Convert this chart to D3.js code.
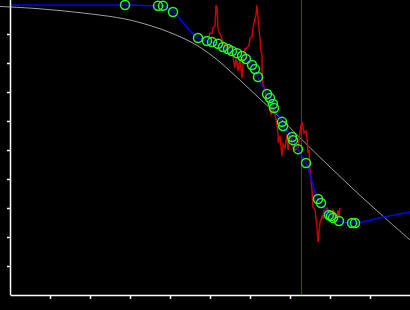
<!DOCTYPE html>
<html>
<head>
<meta charset="utf-8">
<script src="https://cdn.jsdelivr.net/npm/d3@7"></script>
<style>
  html, body { margin: 0; padding: 0; background: #000; }
  svg { display: block; }
</style>
</head>
<body>
<div id="chart"></div>
<script>
// tick positions (no labels on this chart)
const xTicks = [1, 2, 3, 4, 5, 6, 7, 8, 9];
const yTicks = [0.1, 0.2, 0.3, 0.4, 0.5, 0.6, 0.7, 0.8, 0.9];

// grey fitted curve
const fitX = [-0.25, 0.75, 1.75, 2.75, 3.25, 3.75, 4.25, 4.75, 5.25, 5.75, 6.25, 6.75, 7.5, 8.0, 8.5, 9.0, 9.5, 10.0];
const fitY = [0.995, 0.988, 0.974, 0.957, 0.940, 0.919, 0.892, 0.857, 0.805, 0.741, 0.676, 0.612, 0.507, 0.442, 0.375, 0.312, 0.250, 0.190];

// green sampled points (blue line goes through them)
const pointX = [2.875, 3.70, 3.825, 4.075, 4.70, 4.925, 5.05, 5.20, 5.325, 5.45, 5.55, 5.675, 5.80, 5.90, 6.05, 6.125, 6.20,
  6.425, 6.50, 6.575, 6.60, 6.80, 6.825, 7.05, 7.075, 7.20, 7.40, 7.70, 7.775, 7.975, 8.025, 8.075, 8.225, 8.55, 8.625];
const pointY = [1.0, 0.997, 0.997, 0.976, 0.886, 0.876, 0.872, 0.866, 0.855, 0.848, 0.841, 0.834, 0.824, 0.814, 0.793, 0.779, 0.752,
  0.693, 0.679, 0.659, 0.645, 0.597, 0.583, 0.545, 0.534, 0.503, 0.455, 0.331, 0.317, 0.276, 0.272, 0.266, 0.255, 0.248, 0.248];

// blue line ends beyond the points
const leadX = [0], leadY = [1.0];
const tailX = [9.25, 10.0], tailY = [0.266, 0.286];

// red raw trace
const rawX = [4.925, 4.975, 5.0, 5.05, 5.075, 5.125, 5.15, 5.175, 5.2, 5.225, 5.275, 5.325, 5.4, 5.475, 5.525, 5.575, 5.6, 5.625,
  5.65, 5.675, 5.7, 5.725, 5.75, 5.775, 5.8, 5.825, 5.85, 5.875, 5.925, 5.975, 6.0, 6.05, 6.075, 6.1, 6.15, 6.175, 6.2, 6.225,
  6.25, 6.275, 6.3, 6.305, 6.325, 6.375, 6.425, 6.5, 6.525, 6.575, 6.625, 6.675, 6.7, 6.705, 6.75, 6.8, 6.825, 6.875, 6.925,
  6.95, 7.0, 7.05, 7.075, 7.125, 7.2, 7.275, 7.3, 7.35, 7.4, 7.425, 7.45, 7.475, 7.5, 7.55, 7.575, 7.625, 7.675, 7.7, 7.725,
  7.75, 7.8, 7.825, 7.85, 7.925, 7.95, 8.0, 8.05, 8.075, 8.125, 8.175, 8.2, 8.225, 8.25];
const rawY = [0.886, 0.893, 0.903, 0.903, 0.921, 0.928, 1.0, 0.990, 0.921, 0.907, 0.893, 0.872, 0.852, 0.859, 0.838, 0.824, 0.8, 0.783,
  0.810, 0.803, 0.772, 0.797, 0.817, 0.779, 0.748, 0.790, 0.828, 0.848, 0.852, 0.859, 0.886, 0.890, 0.921, 0.938, 0.966, 1.0, 0.955, 0.914,
  0.886, 0.838, 0.831, 0.752, 0.728, 0.707, 0.672, 0.638, 0.624, 0.648, 0.624, 0.590, 0.555, 0.524, 0.548, 0.479, 0.521, 0.507, 0.555,
  0.5, 0.559, 0.524, 0.507, 0.5, 0.507, 0.586, 0.597, 0.559, 0.566, 0.541, 0.490, 0.5, 0.431, 0.362, 0.303, 0.293, 0.234, 0.183, 0.214,
  0.248, 0.272, 0.262, 0.290, 0.3, 0.290, 0.283, 0.269, 0.293, 0.283, 0.269, 0.293, 0.266, 0.3];

// vertical marker
const markerX = [7.275];

const width = 410, height = 310;
const margin = { left: 10, bottom: 15, top: 5 };

const x = d3.scaleLinear().domain([0, 10]).range([margin.left, width]);
const y = d3.scaleLinear().domain([0, 1]).range([height - margin.bottom, margin.top]);

const svg = d3.select("#chart").append("svg")
    .attr("width", width)
    .attr("height", height)
    .style("background", "#000");

const zip = (xs, ys) => xs.map((v, i) => [v, ys[i]]);

const line = d3.line()
    .x(d => x(d[0]))
    .y(d => y(d[1]));

// grey fit
svg.append("path")
    .datum(zip(fitX, fitY))
    .attr("fill", "none")
    .attr("stroke", "#a0a0a0")
    .attr("stroke-width", 1)
    .attr("d", line.curve(d3.curveBasis));

// marker line
svg.selectAll("line.marker")
    .data(markerX)
    .enter()
    .append("line")
    .attr("class", "marker")
    .attr("x1", d => Math.round(x(d)) + 0.5)
    .attr("x2", d => Math.round(x(d)) + 0.5)
    .attr("y1", 0)
    .attr("y2", y(0))
    .attr("stroke", "#7a1a7a")
    .attr("stroke-width", 1);

// red raw trace
svg.append("path")
    .datum(zip(rawX, rawY))
    .attr("fill", "none")
    .attr("stroke", "#c80000")
    .attr("stroke-width", 1.5)
    .attr("d", line.curve(d3.curveLinear));

// blue smoothed line
const blueData = zip(leadX, leadY).concat(zip(pointX, pointY), zip(tailX, tailY));
svg.append("path")
    .datum(blueData)
    .attr("fill", "none")
    .attr("stroke", "#0000ff")
    .attr("stroke-width", 1.5)
    .attr("d", line.curve(d3.curveMonotoneX));

// green points
svg.selectAll("circle.pt")
    .data(zip(pointX, pointY))
    .enter()
    .append("circle")
    .attr("class", "pt")
    .attr("cx", d => x(d[0]))
    .attr("cy", d => y(d[1]))
    .attr("r", 4.5)
    .attr("fill", "none")
    .attr("stroke", "#22ff22")
    .attr("stroke-width", 1.5);

// axes
const yAxis = svg.append("g")
    .attr("transform", `translate(${margin.left},0)`)
    .call(d3.axisLeft(y).tickValues(yTicks).tickSize(3).tickSizeOuter(0).tickFormat(""));
yAxis.select(".domain").attr("d", `M0.5,${y(0)}V0`);

const xAxis = svg.append("g")
    .attr("transform", `translate(0,${y(0)})`)
    .call(d3.axisBottom(x).tickValues(xTicks).tickSize(4).tickSizeOuter(0).tickFormat(""));

svg.selectAll(".domain, .tick line")
    .attr("stroke", "#fff")
    .attr("stroke-width", 1.5);
</script>
</body>
</html>
